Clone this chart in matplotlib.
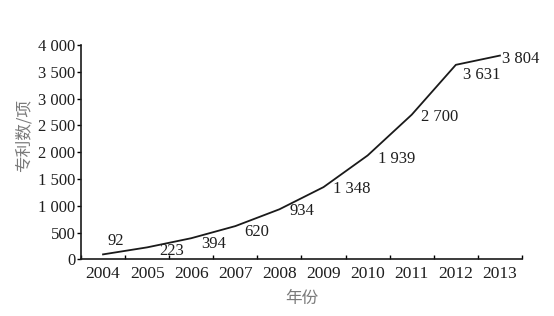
import matplotlib
matplotlib.use("Agg")
import matplotlib.pyplot as plt
import numpy as np

years = ["2004", "2005", "2006", "2007", "2008", "2009", "2010", "2011", "2012", "2013"]
patents = [92, 223, 394, 620, 934, 1348, 1939, 2700, 3631, 3804]
value_labels = ["92", "223", "394", "620", "934", "1 348", "1 939", "2 700", "3 631", "3 804"]
label_offsets_px = [(13, 13), (24, -4), (22, -6), (21, -6), (22, -2), (28, -2),
                    (29, -4), (28, -2), (26, -10), (21, -3)]
yticks = [0, 500, 1000, 1500, 2000, 2500, 3000, 3500, 4000]
ytick_labels = ["0", "500", "1 000", "1 500", "2 000", "2 500", "3 000", "3 500", "4 000"]

plt.rcParams["font.family"] = ["Liberation Serif", "DejaVu Serif"]

fig = plt.figure(figsize=(5.54, 3.16), dpi=100)
ax = fig.add_axes([0.1462, 0.1794, 0.796, 0.678])

x = np.arange(len(years))
ax.plot(x, patents, color="#1a1a1a", lw=1.3, solid_joinstyle="round")

for xi, v, lab, (dx, dy) in zip(x, patents, value_labels, label_offsets_px):
    ax.annotate(lab, xy=(xi, v), xytext=(dx, dy), textcoords="offset pixels",
                ha="center", va="center", fontsize=12, color="#1e1e1e")

ax.set_xlim(-0.5, len(years) - 0.5)
ax.set_ylim(0, 4000)

ax.set_xticks(np.arange(-0.5, len(years), 1.0))
ax.set_xticklabels([])
ax.set_xticks(x, minor=True)
ax.set_xticklabels(years, minor=True, fontsize=12.5, color="#1e1e1e")
ax.tick_params(axis="x", which="major", direction="in", length=3, width=1.0)
ax.tick_params(axis="x", which="minor", length=0, pad=5)

ax.set_yticks(yticks)
ax.set_yticklabels(ytick_labels, fontsize=12, color="#1e1e1e")
ax.tick_params(axis="y", direction="out", length=3, width=1.0, pad=1)

for s in ["top", "right"]:
    ax.spines[s].set_visible(False)
for s in ["left", "bottom"]:
    ax.spines[s].set_linewidth(1.2)
    ax.spines[s].set_color("#1a1a1a")

ax.set_ylabel("专利数/项", family=["Noto Sans CJK SC", "DejaVu Sans"], fontsize=12,
              color="#7a7a7a")
ax.yaxis.set_label_coords(-0.109, 0.58)
ax.set_xlabel("年份", family=["Noto Sans CJK SC", "DejaVu Sans"], fontsize=12,
              color="#7a7a7a")
ax.xaxis.set_label_coords(0.5, -0.143)

fig.savefig("out.png", dpi=100)
